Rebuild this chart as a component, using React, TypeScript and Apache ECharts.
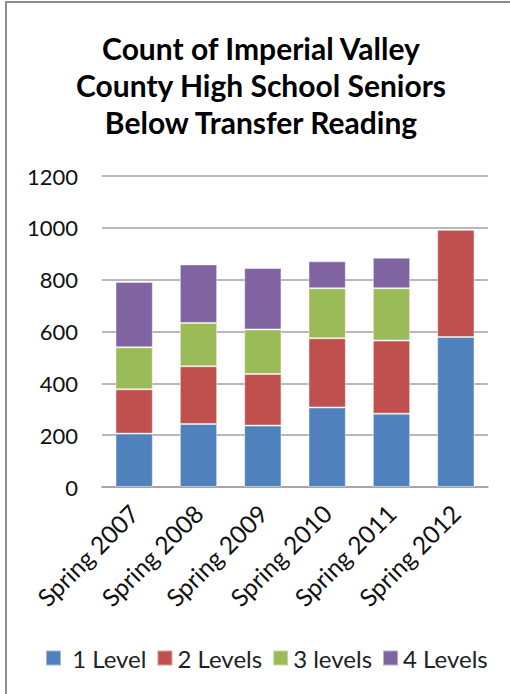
import React, { useEffect, useRef } from "react";
import * as echarts from "echarts";

const categories = ["Spring 2007", "Spring 2008", "Spring 2009", "Spring 2010", "Spring 2011", "Spring 2012"];
const level1 = [206, 243, 237, 307, 283, 579];
const level2 = [171, 223, 199, 267, 282, 414];
const level3 = [162, 167, 172, 193, 202, 0];
const level4 = [252, 226, 237, 104, 118, 0];
const seriesNames = ["1 Level", "2 Levels", "3 levels", "4 Levels"];
const colors = ["#4F81BD", "#C0504D", "#9BBB59", "#8064A2"];
const yTicks = { min: 0, max: 1200, interval: 200 };

const FONT = "Lato, 'Open Sans', sans-serif";

export default function App() {
  const ref = useRef<HTMLDivElement>(null);

  useEffect(() => {
    if (!ref.current) return;
    const chart = echarts.init(ref.current, null, { renderer: "svg" });
    const values = [level1, level2, level3, level4];
    chart.setOption({
      animation: false,
      backgroundColor: "#ffffff",
      title: {
        text: "Count of Imperial Valley\nCounty High School Seniors\nBelow Transfer Reading",
        left: 256,
        top: 24,
        textAlign: "center",
        textStyle: {
          fontFamily: FONT,
          fontWeight: "bold",
          fontSize: 30,
          lineHeight: 37,
          color: "#000000",
        },
      },
      legend: {
        left: 40,
        top: 641,
        icon: "rect",
        itemWidth: 15,
        itemHeight: 15,
        itemGap: 10,
        data: seriesNames,
        formatter: (name: string) => (name === seriesNames[0] ? " " + name : name),
        textStyle: { fontFamily: FONT, fontSize: 24, color: "#222222", padding: [0, 0, 0, 0] },
      },
      grid: { left: 102, right: 22, top: 176, bottom: 207, containLabel: false },
      xAxis: {
        type: "category",
        data: categories,
        axisLine: { show: true, lineStyle: { color: "#a0a0a0", width: 1.5 } },
        axisTick: { show: false },
        axisLabel: {
          rotate: 45,
          margin: 22,
          interval: 0,
          fontFamily: FONT,
          fontSize: 24.5,
          color: "#111111",
        },
      },
      yAxis: {
        type: "value",
        min: yTicks.min,
        max: yTicks.max,
        interval: yTicks.interval,
        axisLine: { show: false },
        axisTick: { show: false },
        splitLine: { lineStyle: { color: "#a0a0a0", width: 1.5 } },
        axisLabel: {
          margin: 24,
          fontFamily: FONT,
          fontSize: 22,
          color: "#111111",
          formatter: (v: number) => String(v),
        },
      },
      graphic: [
        {
          type: "rect",
          shape: { x: 6, y: 2, width: 530, height: 720 },
          style: { fill: "none", stroke: "#8c8c8c", lineWidth: 2 },
          silent: true,
        },
      ],
      series: seriesNames.map((name, i) => ({
        name,
        type: "bar",
        stack: "total",
        data: values[i],
        barWidth: "58%",
        itemStyle: { color: colors[i], borderColor: "rgba(255,255,255,0.45)", borderWidth: 1 },
      })),
    });
    return () => chart.dispose();
  }, []);

  return (
    <div
      ref={ref}
      style={{ position: "fixed", left: 0, top: 0, width: 510, height: 694 }}
    />
  );
}
